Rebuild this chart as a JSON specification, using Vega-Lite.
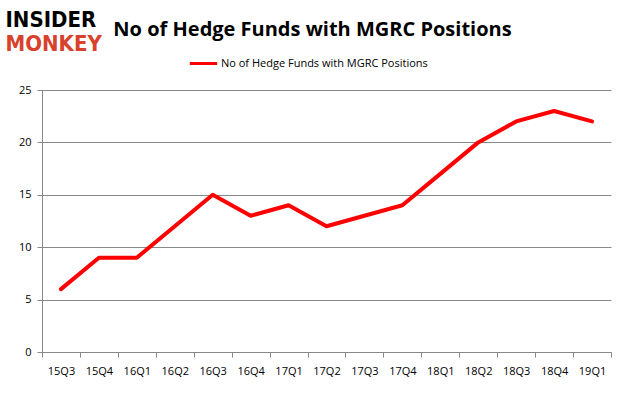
{
  "$schema": "https://vega.github.io/schema/vega-lite/v6.json",
  "autosize": "none",
  "width": 569,
  "height": 262,
  "padding": {"left": 42, "top": 90, "right": 15, "bottom": 45},
  "background": "white",
  "title": {
    "text": "No of Hedge Funds with MGRC Positions",
    "anchor": "middle",
    "dx": -14,
    "offset": 0,
    "dy": 32,
    "font": "Open Sans",
    "fontSize": 20,
    "fontWeight": "bold",
    "color": "#000000"
  },
  "data": {
    "values": [
      {"q": "15Q3", "v": 6, "s": "No of Hedge Funds with MGRC Positions"},
      {"q": "15Q4", "v": 9, "s": "No of Hedge Funds with MGRC Positions"},
      {"q": "16Q1", "v": 9, "s": "No of Hedge Funds with MGRC Positions"},
      {"q": "16Q2", "v": 12, "s": "No of Hedge Funds with MGRC Positions"},
      {"q": "16Q3", "v": 15, "s": "No of Hedge Funds with MGRC Positions"},
      {"q": "16Q4", "v": 13, "s": "No of Hedge Funds with MGRC Positions"},
      {"q": "17Q1", "v": 14, "s": "No of Hedge Funds with MGRC Positions"},
      {"q": "17Q2", "v": 12, "s": "No of Hedge Funds with MGRC Positions"},
      {"q": "17Q3", "v": 13, "s": "No of Hedge Funds with MGRC Positions"},
      {"q": "17Q4", "v": 14, "s": "No of Hedge Funds with MGRC Positions"},
      {"q": "18Q1", "v": 17, "s": "No of Hedge Funds with MGRC Positions"},
      {"q": "18Q2", "v": 20, "s": "No of Hedge Funds with MGRC Positions"},
      {"q": "18Q3", "v": 22, "s": "No of Hedge Funds with MGRC Positions"},
      {"q": "18Q4", "v": 23, "s": "No of Hedge Funds with MGRC Positions"},
      {"q": "19Q1", "v": 22, "s": "No of Hedge Funds with MGRC Positions"}
    ]
  },
  "mark": {"type": "line", "strokeWidth": 4, "strokeCap": "round", "strokeJoin": "round"},
  "encoding": {
    "x": {
      "field": "q",
      "type": "ordinal",
      "sort": null,
      "scale": {"type": "band", "paddingInner": 0, "paddingOuter": 0},
      "axis": {
        "title": "MONKEY",
        "titleX": -37,
        "titleY": -302,
        "titleAlign": "left",
        "titleBaseline": "alphabetic",
        "titleAngle": 0,
        "titleFont": "DejaVu Sans Condensed",
        "titleFontSize": 22,
        "titleFontWeight": "bold",
        "titleColor": "#d8412c",
        "labelAngle": 0,
        "labelFont": "Open Sans",
        "labelFontSize": 11,
        "labelColor": "#000000",
        "labelPadding": 8,
        "tickBand": "extent",
        "tickSize": 5,
        "tickColor": "#888888",
        "domainColor": "#888888",
        "grid": false
      }
    },
    "y": {
      "field": "v",
      "type": "quantitative",
      "scale": {"domain": [0, 25]},
      "axis": {
        "values": [0, 5, 10, 15, 20, 25],
        "title": "INSIDER",
        "titleX": -37,
        "titleY": -64,
        "titleAlign": "left",
        "titleBaseline": "alphabetic",
        "titleAngle": 0,
        "titleFont": "DejaVu Sans Condensed",
        "titleFontSize": 22,
        "titleFontWeight": "bold",
        "titleColor": "#000000",
        "labelFont": "Open Sans",
        "labelFontSize": 11,
        "labelColor": "#000000",
        "labelPadding": 6,
        "tickSize": 5,
        "tickColor": "#888888",
        "domainColor": "#888888",
        "gridColor": "#888888",
        "gridOpacity": 1
      }
    },
    "color": {
      "field": "s",
      "type": "nominal",
      "scale": {"range": ["#ff0000"]},
      "legend": {
        "title": null,
        "orient": "none",
        "legendX": 146,
        "legendY": -42,
        "symbolType": "stroke",
        "symbolStrokeWidth": 3,
        "symbolSize": 750,
        "labelFont": "Open Sans",
        "labelFontSize": 11,
        "labelColor": "#000000",
        "labelOffset": 2,
        "labelLimit": 0
      }
    }
  },
  "config": {
    "view": {"stroke": null}
  }
}
